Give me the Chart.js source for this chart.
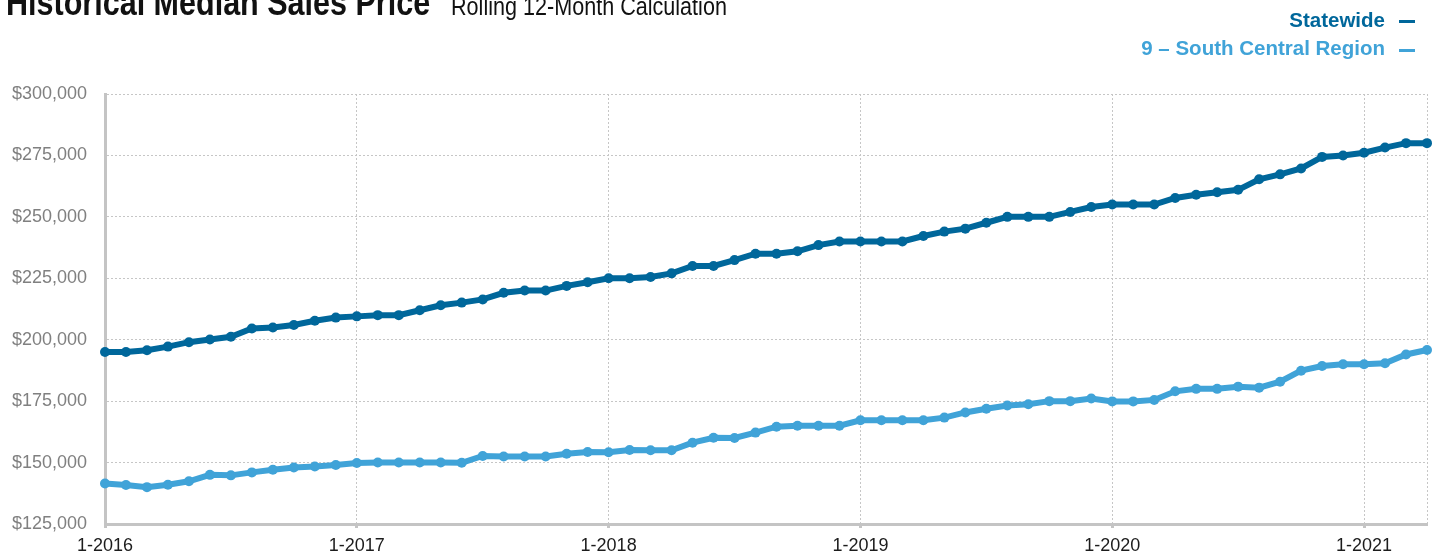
<!DOCTYPE html>
<html>
<head>
<meta charset="utf-8">
<script src="https://cdn.jsdelivr.net/npm/chart.js@4"></script>
<style>
  html, body { margin: 0; padding: 0; background: #fff; overflow: hidden; }
  #wrap { position: relative; width: 1437px; height: 554px; }
  #chart { position: absolute; left: 0; top: 0; }
  /* узкий шрифт не установлен, сжимаем обычный по горизонтали */
  .title { position: absolute; left: 6px; top: -15px; font: bold 36px "Liberation Sans", Arial, sans-serif; line-height: 36px; color: #111; white-space: nowrap; transform: scaleX(0.848); transform-origin: 0 0; }
  .subtitle { position: absolute; left: 451px; top: -7px; font: 26px "Liberation Sans", Arial, sans-serif; line-height: 26px; color: #111; white-space: nowrap; transform: scaleX(0.83); transform-origin: 0 0; }
  .leg { position: absolute; right: 52px; font: bold 20.5px "Liberation Sans", Arial, sans-serif; line-height: 20px; white-space: nowrap; }
  .dash { position: absolute; left: 1399px; width: 16px; height: 2.5px; }
</style>
</head>
<body>
<div id="wrap">
  <canvas id="chart" width="1437" height="554"></canvas>
  <div class="title">Historical Median Sales Price</div>
  <div class="subtitle">Rolling 12-Month Calculation</div>
  <div class="leg" id="leg1" style="top:10px;">Statewide</div>
  <div class="dash" id="dash1" style="top:20px;"></div>
  <div class="leg" id="leg2" style="top:38px;">9 – South Central Region</div>
  <div class="dash" id="dash2" style="top:49px;"></div>
</div>
<script>
// месяцы: янв 2016 - апр 2021
const months = [
  '1-2016','2-2016','3-2016','4-2016','5-2016','6-2016','7-2016','8-2016','9-2016','10-2016','11-2016','12-2016',
  '1-2017','2-2017','3-2017','4-2017','5-2017','6-2017','7-2017','8-2017','9-2017','10-2017','11-2017','12-2017',
  '1-2018','2-2018','3-2018','4-2018','5-2018','6-2018','7-2018','8-2018','9-2018','10-2018','11-2018','12-2018',
  '1-2019','2-2019','3-2019','4-2019','5-2019','6-2019','7-2019','8-2019','9-2019','10-2019','11-2019','12-2019',
  '1-2020','2-2020','3-2020','4-2020','5-2020','6-2020','7-2020','8-2020','9-2020','10-2020','11-2020','12-2020',
  '1-2021','2-2021','3-2021','4-2021'
];

const statewide = [
  195000, 195000, 195700, 197200, 199000, 200100, 201200, 204600, 205000, 206000, 207700, 209000,
  209500, 210000, 210000, 212000, 214000, 215100, 216400, 219100, 220000, 220000, 221900, 223400,
  225000, 225000, 225500, 227000, 230000, 230000, 232400, 235000, 235000, 236000, 238500, 240000,
  240000, 240000, 240000, 242200, 244000, 245200, 247600, 250000, 250000, 250000, 252000, 254000,
  255000, 255000, 255000, 257700, 259000, 260000, 261000, 265300, 267300, 269700, 274400, 275000,
  276100, 278200, 280000, 280000
];

const southCentral = [
  141500, 140900, 140000, 141000, 142400, 145000, 144800, 146000, 147100, 148000, 148400, 149000,
  149800, 150000, 150000, 150000, 150000, 149900, 152700, 152500, 152500, 152500, 153600, 154300,
  154200, 155100, 155000, 155000, 158100, 160100, 160000, 162200, 164600, 165000, 165000, 165000,
  167200, 167200, 167200, 167200, 168300, 170400, 171900, 173200, 173700, 175000, 175000, 176100,
  174900, 174900, 175500, 179000, 180000, 180000, 180900, 180500, 182900, 187400, 189300, 190000,
  190000, 190400, 194000, 195800
];

const seriesNames = ['Statewide', '9 – South Central Region'];
const seriesColors = ['#00679b', '#40a3d8'];

const yTicks = [125000, 150000, 175000, 200000, 225000, 250000, 275000, 300000];

// легенда сверху справа
document.getElementById('leg1').style.color = seriesColors[0];
document.getElementById('leg2').style.color = seriesColors[1];
document.getElementById('dash1').style.background = seriesColors[0];
document.getElementById('dash2').style.background = seriesColors[1];

const gridGray = '#c6c6c6';
const axisGray = '#c4c4c4';

function makeDataset(label, data, color) {
    return {
        label: label,
        data: data,
        borderColor: color,
        backgroundColor: color,
        borderWidth: 6,
        pointRadius: 5,
        pointBorderWidth: 0,
        pointBackgroundColor: color,
        tension: 0,
        clip: false
    };
}

const ctx = document.getElementById('chart').getContext('2d');
new Chart(ctx, {
    type: 'line',
    data: {
        labels: months,
        datasets: [
            makeDataset(seriesNames[0], statewide, seriesColors[0]),
            makeDataset(seriesNames[1], southCentral, seriesColors[1])
        ]
    },
    options: {
        responsive: false,
        animation: false,
        devicePixelRatio: 1,
        layout: { padding: { top: 94, right: 10, bottom: 0, left: 0 } },
        plugins: {
            legend: { display: false },
            tooltip: { enabled: false }
        },
        scales: {
            x: {
                afterFit: function(scale) { scale.height = 30; },
                grid: {
                    color: function(c) {
                        return (c.index % 12 === 0 || c.index === months.length - 1) ? gridGray : 'rgba(0,0,0,0)';
                    },
                    lineWidth: 1,
                    tickLength: 4,
                    tickWidth: 3,
                    tickColor: function(c) {
                        return c.index % 12 === 0 ? axisGray : 'rgba(0,0,0,0)';
                    }
                },
                border: { display: true, color: axisGray, width: 3, dash: [2, 2] },
                ticks: {
                    autoSkip: false,
                    maxRotation: 0,
                    padding: 7,
                    color: '#1c1c1c',
                    font: { family: '"Liberation Sans", Arial, sans-serif', size: 18 },
                    callback: function(value, index) {
                        return index % 12 === 0 ? months[index] : '';
                    }
                }
            },
            y: {
                min: yTicks[0],
                max: yTicks[yTicks.length - 1],
                afterFit: function(scale) { scale.width = 105; },
                afterBuildTicks: function(scale) {
                    scale.ticks = yTicks.map(v => ({ value: v }));
                },
                grid: {
                    color: gridGray,
                    lineWidth: 1,
                    drawTicks: false
                },
                border: { display: true, color: axisGray, width: 3, dash: [2, 2] },
                ticks: {
                    padding: 18,
                    color: '#808080',
                    font: { family: '"Liberation Sans", Arial, sans-serif', size: 18 },
                    callback: function(value) {
                        return '$' + value.toLocaleString('en-US');
                    }
                }
            }
        }
    }
});
</script>
</body>
</html>
